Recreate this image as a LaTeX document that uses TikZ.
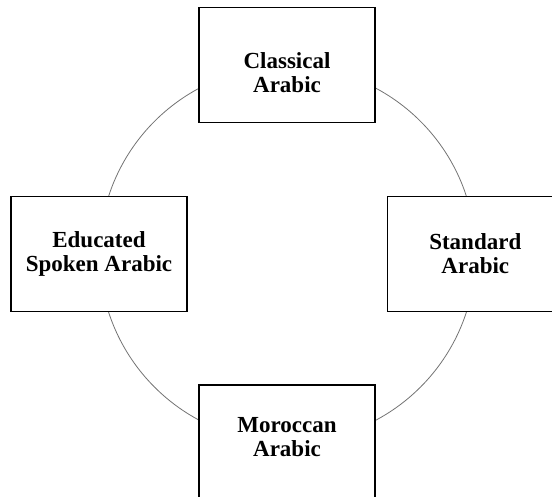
\documentclass[tikz,border=0pt]{standalone}
\usepackage{fontspec}
\setmainfont{Liberation Serif}

\begin{document}
\begin{tikzpicture}[
  x=1pt,y=1pt,
  varbox/.style={draw, line width=1.5pt, fill=white, align=center, inner sep=0pt, minimum width=176pt, minimum height=115pt, font=\fontsize{23}{24}\selectfont\bfseries},
  ring/.style={draw=black!55, line width=0.8pt, circle, inner sep=0pt, minimum size=376pt}
]
\useasboundingbox (0,0) rectangle (552,496);
\clip (0,0) rectangle (552,496);

\node[ring] (cycle) at (287.5,241.8) {};

% struts push the text of the top and bottom boxes towards the ring
\node[varbox] (classical) at (287,431.1) {\rule{0pt}{31.5pt}Classical\\Arabic};
\node[varbox] (spoken) at (99,242) {Educated\\Spoken Arabic};
\node[varbox] (standard) at (475.3,242) {Standard\\Arabic};
\node[varbox] (moroccan) at (287,53.5) {Moroccan\\Arabic\rule[-12pt]{0pt}{12pt}};
\end{tikzpicture}
\end{document}
